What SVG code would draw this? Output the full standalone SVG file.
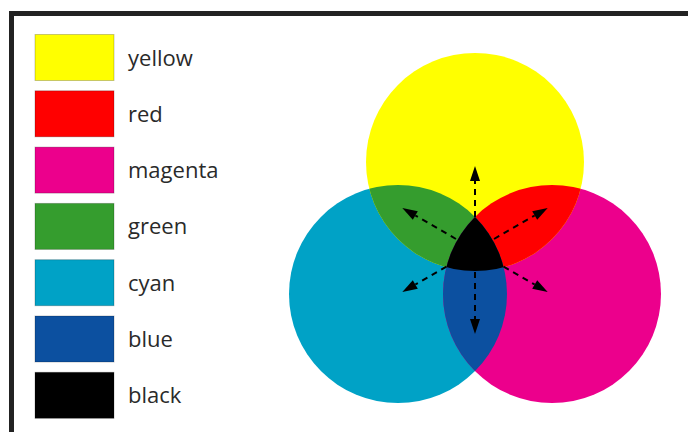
<svg xmlns="http://www.w3.org/2000/svg" width="688" height="432" viewBox="0 0 688 432">
<style>
.sw{stroke:#000;stroke-opacity:0.22;stroke-width:1}
.lbl{font-family:"Open Sans","Noto Sans","Liberation Sans",sans-serif;font-size:22px;fill:#2a2a2a}
.arr{stroke:#000;stroke-width:2;stroke-dasharray:6 5;fill:none;marker-end:url(#ah)}
</style>
<defs>
<marker id="ah" markerUnits="userSpaceOnUse" markerWidth="16" markerHeight="12" refX="0" refY="5" orient="auto" overflow="visible">
<path d="M0,0 L15,5 L0,10 z" fill="#000"/>
</marker>
<clipPath id="cY"><circle cx="475" cy="162" r="109"/></clipPath>
<clipPath id="cC"><circle cx="398" cy="294" r="109"/></clipPath>
</defs>
<rect width="688" height="432" fill="#fff"/>
<rect x="11.5" y="13.5" width="700" height="440" fill="none" stroke="#222" stroke-width="5"/>

<g id="legend-yellow"><rect class="sw" x="35" y="34.5" width="79" height="46" fill="#FFFF00"/><text class="lbl" x="128" y="65.5">yellow</text></g>
<g id="legend-red"><rect class="sw" x="35" y="90.8" width="79" height="46" fill="#FF0000"/><text class="lbl" x="128" y="121.8">red</text></g>
<g id="legend-magenta"><rect class="sw" x="35" y="147.1" width="79" height="46" fill="#EC008C"/><text class="lbl" x="128" y="178.1">magenta</text></g>
<g id="legend-green"><rect class="sw" x="35" y="203.4" width="79" height="46" fill="#359D2E"/><text class="lbl" x="128" y="234.4">green</text></g>
<g id="legend-cyan"><rect class="sw" x="35" y="259.7" width="79" height="46" fill="#00A2C6"/><text class="lbl" x="128" y="290.7">cyan</text></g>
<g id="legend-blue"><rect class="sw" x="35" y="316" width="79" height="46" fill="#0C50A0"/><text class="lbl" x="128" y="347">blue</text></g>
<g id="legend-black"><rect class="sw" x="35" y="372.3" width="79" height="46" fill="#000"/><text class="lbl" x="128" y="403.3">black</text></g>

<g id="circle-cyan"><circle cx="398" cy="294" r="109" fill="#00A2C6"/></g>
<g id="circle-magenta"><circle cx="552" cy="294" r="109" fill="#EC008C"/></g>
<g id="circle-yellow"><circle cx="475" cy="162" r="109" fill="#FFFF00"/></g>
<g id="region-green" clip-path="url(#cY)"><circle cx="398" cy="294" r="109" fill="#359D2E"/></g>
<g id="region-red" clip-path="url(#cY)"><circle cx="552" cy="294" r="109" fill="#FF0000"/></g>
<g id="region-blue" clip-path="url(#cC)"><circle cx="552" cy="294" r="109" fill="#0C50A0"/></g>
<g id="region-black" clip-path="url(#cY)"><circle cx="552" cy="294" r="109" fill="#000" clip-path="url(#cC)"/></g>

<g id="connectors">
<line class="arr" x1="475" y1="250" x2="475" y2="181"/>
<line class="arr" x1="475" y1="250" x2="475" y2="319"/>
<line class="arr" x1="475" y1="250" x2="415.3" y2="215.5"/>
<line class="arr" x1="475" y1="250" x2="534.7" y2="215.5"/>
<line class="arr" x1="475" y1="250" x2="415.3" y2="284.5"/>
<line class="arr" x1="475" y1="250" x2="534.7" y2="284.5"/>
</g>
</svg>
